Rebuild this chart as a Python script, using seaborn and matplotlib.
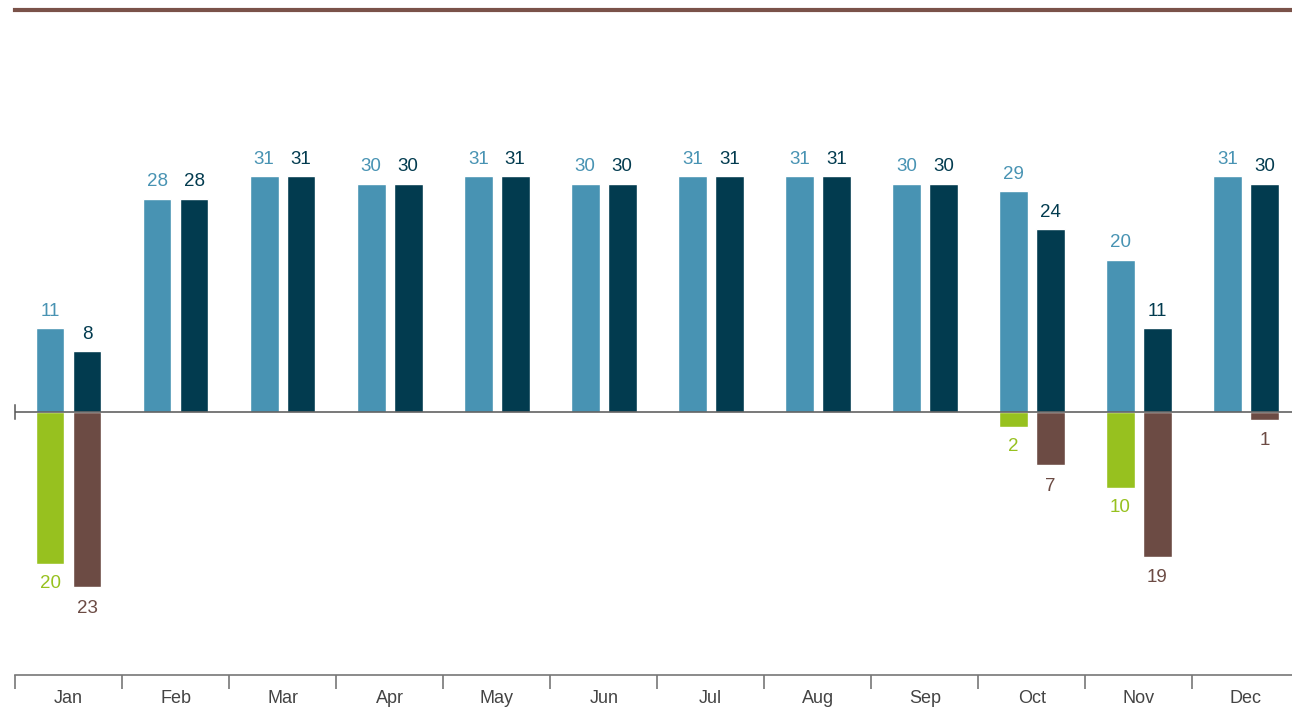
import matplotlib
matplotlib.use("Agg")
import matplotlib.pyplot as plt
import seaborn as sns
import pandas as pd

# Monthly counts: two series shown above the baseline, two shown below it
months = ["Jan", "Feb", "Mar", "Apr", "May", "Jun",
          "Jul", "Aug", "Sep", "Oct", "Nov", "Dec"]
upper_a = [11, 28, 31, 30, 31, 30, 31, 31, 30, 29, 20, 31]
upper_b = [8, 28, 31, 30, 31, 30, 31, 31, 30, 24, 11, 30]
lower_a = [20, 0, 0, 0, 0, 0, 0, 0, 0, 2, 10, 0]
lower_b = [23, 0, 0, 0, 0, 0, 0, 0, 0, 7, 19, 1]

c_light = "#4893b3"
c_dark = "#023b4f"
c_green = "#97c11f"
c_brown = "#6c4b44"

sns.set_theme(style="white")
plt.rcParams["font.family"] = ["Liberation Sans", "DejaVu Sans"]

up = pd.DataFrame({
    "month": months * 2,
    "series": ["a"] * 12 + ["b"] * 12,
    "value": upper_a + upper_b,
})
down = pd.DataFrame({
    "month": months * 2,
    "series": ["a"] * 12 + ["b"] * 12,
    "value": [-v for v in lower_a] + [-v for v in lower_b],
})

fig = plt.figure(figsize=(12.92, 7.09), dpi=100)
ax = fig.add_axes([15 / 1292, 1 - 675 / 709, 1 - 15 / 1292, (675 - 10) / 709])

sns.barplot(data=up, x="month", y="value", hue="series", hue_order=["a", "b"],
            palette=[c_light, c_dark], width=0.69, gap=0.22, ax=ax,
            legend=False, errorbar=None, saturation=1)
sns.barplot(data=down, x="month", y="value", hue="series", hue_order=["a", "b"],
            palette=[c_green, c_brown], width=0.69, gap=0.22, ax=ax,
            legend=False, errorbar=None, saturation=1)

label_sets = [
    (upper_a, c_light, 6),
    (upper_b, c_dark, 6),
    (lower_a, c_green, 8),
    (lower_b, c_brown, 9),
]
for container, (vals, col, pad) in zip(ax.containers, label_sets):
    labels = [str(v) if v != 0 else "" for v in vals]
    ax.bar_label(container, labels=labels, padding=pad, color=col, fontsize=13.5)

ax.axhline(0, color="#555555", lw=1.1, zorder=5)

ax.spines["right"].set_visible(False)
ax.spines["top"].set_color("#7a5249")
ax.spines["top"].set_linewidth(3)
ax.spines["bottom"].set_color("#777777")
ax.spines["bottom"].set_linewidth(1.2)
ax.spines["left"].set_color("#555555")
ax.spines["left"].set_linewidth(1.1)
ax.spines["left"].set_bounds(-0.9, 0.9)

ax.set_yticks([])
ax.set_xlabel("")
ax.set_ylabel("")
ax.set_xticks(range(12))
ax.set_xticklabels(months, color="#444444", fontsize=13)
ax.set_xticks([i - 0.5 for i in range(12)], minor=True)
ax.tick_params(axis="x", which="major", length=0, pad=11)
ax.tick_params(axis="x", which="minor", length=10, width=1.2, color="#777777",
               direction="out", bottom=True)

ax.set_ylim(-34.56, 52.8)
ax.set_xlim(-0.5, 11.43)

fig.savefig("out.png", dpi=100)
